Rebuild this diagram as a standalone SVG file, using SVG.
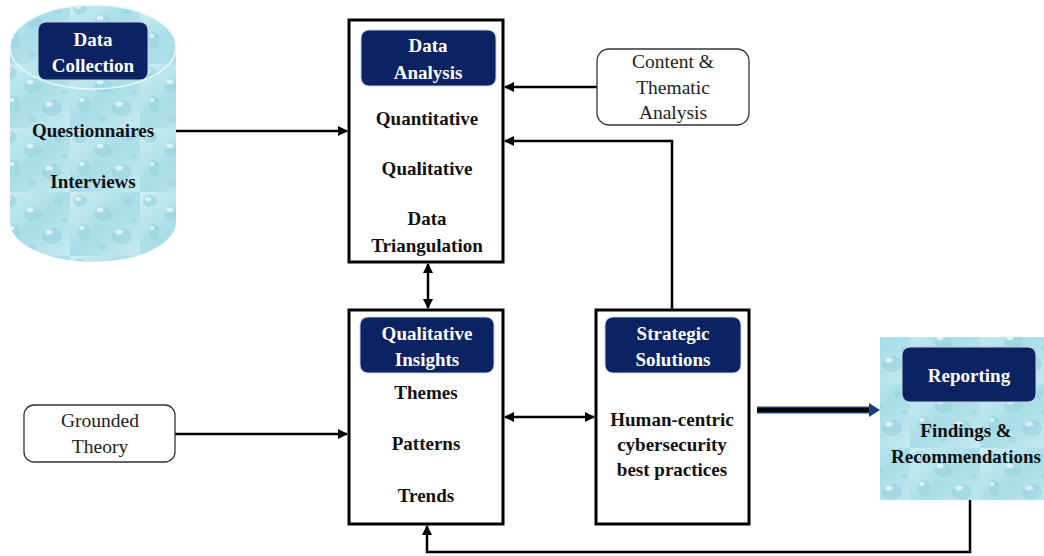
<svg xmlns="http://www.w3.org/2000/svg" width="1044" height="556" viewBox="0 0 1044 556">
<style>
.t{font-family:"Liberation Serif","Times New Roman",serif;font-size:19px;font-weight:bold;fill:#111;text-anchor:middle}
.h{font-family:"Liberation Serif","Times New Roman",serif;font-size:19px;font-weight:bold;fill:#fff;text-anchor:middle}
.r{font-family:"Liberation Serif","Times New Roman",serif;font-size:19.5px;fill:#222;text-anchor:middle}
.box{fill:#fff;stroke:#000;stroke-width:3}
.hdr{fill:#0b2263;stroke:#c8d0e0;stroke-width:1}
.soft{fill:#fff;stroke:#333;stroke-width:1.3}
.c{fill:none;stroke:#000;stroke-width:2.5}
</style>
<defs>
<linearGradient id="water" x1="0" y1="0" x2="1" y2="1">
<stop offset="0" stop-color="#cdeef3"/>
<stop offset="0.5" stop-color="#a9dde8"/>
<stop offset="1" stop-color="#c4eaf0"/>
</linearGradient>
<pattern id="drops" width="70" height="64" patternUnits="userSpaceOnUse">
<rect width="70" height="64" fill="url(#water)"/>
<ellipse cx="10" cy="9" rx="7" ry="6" fill="#8ccbd9" opacity="0.5"/>
<ellipse cx="8" cy="7" rx="3" ry="2" fill="#f2fcff" opacity="0.7"/>
<ellipse cx="33" cy="22" rx="9" ry="7" fill="#90cedc" opacity="0.45"/>
<ellipse cx="30" cy="18" rx="3.5" ry="2.2" fill="#f2fcff" opacity="0.7"/>
<ellipse cx="58" cy="10" rx="5" ry="4" fill="#96d3df" opacity="0.5"/>
<ellipse cx="14" cy="40" rx="6" ry="8" fill="#92d0dd" opacity="0.45"/>
<ellipse cx="12" cy="36" rx="2.5" ry="2" fill="#f2fcff" opacity="0.7"/>
<ellipse cx="52" cy="44" rx="10" ry="8" fill="#8ccbd9" opacity="0.4"/>
<ellipse cx="49" cy="40" rx="4" ry="2.5" fill="#f2fcff" opacity="0.7"/>
<ellipse cx="32" cy="55" rx="4" ry="3.5" fill="#9ad5e1" opacity="0.5"/>
<ellipse cx="64" cy="28" rx="3" ry="2.5" fill="#9ad5e1" opacity="0.5"/>
</pattern>
<marker id="ah" viewBox="0 0 10 10" refX="9" refY="5" markerWidth="4" markerHeight="4" orient="auto-start-reverse">
<path d="M0,0 L10,5 L0,10 z" fill="#000"/>
</marker>
</defs>

<g id="connectors">
<line class="c" x1="176" y1="131" x2="347" y2="131" marker-end="url(#ah)"/>
<line class="c" x1="597" y1="87" x2="505" y2="87" marker-end="url(#ah)"/>
<polyline class="c" points="672,310 672,141 505,141" marker-end="url(#ah)"/>
<line class="c" x1="428" y1="264" x2="428" y2="308" marker-start="url(#ah)" marker-end="url(#ah)"/>
<line class="c" x1="505" y1="417" x2="594" y2="417" marker-start="url(#ah)" marker-end="url(#ah)"/>
<line class="c" x1="175" y1="434" x2="347" y2="434" marker-end="url(#ah)"/>
<line x1="757" y1="410" x2="870" y2="410" stroke="#1b3f7a" stroke-width="7"/>
<line x1="757" y1="410" x2="870" y2="410" stroke="#000" stroke-width="4"/>
<path d="M869,403 L880,410 L869,417 z" fill="#1b3f7a"/>
<polyline class="c" points="970,500 970,552 427,552 427,526" marker-end="url(#ah)"/>
</g>

<g id="data-collection">
<path d="M10,47 A83,42 0 0 1 176,47 L176,222 A83,40 0 0 1 10,222 Z" fill="url(#drops)"/>
<ellipse cx="93" cy="47" rx="83" ry="42" fill="none" stroke="#e8f8fb" stroke-width="1.5"/>
<rect class="hdr" x="38" y="22" width="110" height="58" rx="8"/>
<text class="h" x="93" y="46">Data</text>
<text class="h" x="93" y="72">Collection</text>
<text class="t" x="93" y="137">Questionnaires</text>
<text class="t" x="93" y="188">Interviews</text>
</g>

<g id="data-analysis">
<rect class="box" x="349" y="20" width="154" height="242"/>
<rect class="hdr" x="361" y="30" width="135" height="56" rx="8"/>
<text class="h" x="428" y="52">Data</text>
<text class="h" x="428" y="79">Analysis</text>
<text class="t" x="427" y="125">Quantitative</text>
<text class="t" x="427" y="175">Qualitative</text>
<text class="t" x="427" y="225">Data</text>
<text class="t" x="427" y="252">Triangulation</text>
</g>

<g id="content-thematic">
<rect class="soft" x="597" y="49" width="152" height="76" rx="12"/>
<text class="r" x="673" y="68">Content &amp;</text>
<text class="r" x="673" y="94">Thematic</text>
<text class="r" x="673" y="119">Analysis</text>
</g>

<g id="qualitative-insights">
<rect class="box" x="349" y="310" width="154" height="214"/>
<rect class="hdr" x="360" y="317" width="134" height="56" rx="8"/>
<text class="h" x="427" y="340">Qualitative</text>
<text class="h" x="427" y="366">Insights</text>
<text class="t" x="426" y="399">Themes</text>
<text class="t" x="426" y="450">Patterns</text>
<text class="t" x="426" y="502">Trends</text>
</g>

<g id="strategic-solutions">
<rect class="box" x="596" y="310" width="153" height="214"/>
<rect class="hdr" x="605" y="317" width="136" height="56" rx="8"/>
<text class="h" x="673" y="340">Strategic</text>
<text class="h" x="673" y="366">Solutions</text>
<text class="t" x="672" y="426">Human-centric</text>
<text class="t" x="672" y="451">cybersecurity</text>
<text class="t" x="672" y="476">best practices</text>
</g>

<g id="grounded-theory">
<rect class="soft" x="24" y="405" width="151" height="57" rx="10"/>
<text class="r" x="100" y="427">Grounded</text>
<text class="r" x="100" y="453">Theory</text>
</g>

<g id="reporting">
<rect x="880" y="337" width="164" height="163" fill="url(#drops)"/>
<rect class="hdr" x="902" y="347" width="134" height="55" rx="8"/>
<text class="h" x="969" y="382">Reporting</text>
<text class="t" x="966" y="437">Findings &amp;</text>
<text class="t" x="966" y="463">Recommendations</text>
</g>
</svg>
